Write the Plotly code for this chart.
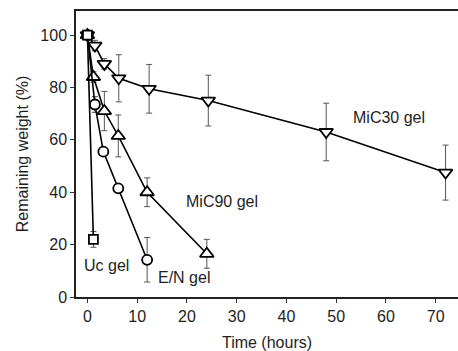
import plotly.graph_objects as go

# Data
uc_x = [0, 1.2]
uc_y = [100, 22]
uc_err = [0, 3]

en_x = [0, 1.5, 3.2, 6.2, 12]
en_y = [100, 73.5, 55.5, 41.5, 14.2]
en_err = [0, 3, 0, 0, 8.5]

mic90_x = [0, 1.2, 3.4, 6.2, 12, 24]
mic90_y = [100, 84, 71, 61.5, 40, 16.5]
mic90_err = [0, 2, 7.5, 8, 5.5, 5.5]

mic30_x = [0, 1.5, 3.4, 6.3, 12.4, 24.3, 48, 72]
mic30_y = [100, 96, 89, 83.5, 79.5, 75, 63, 47.5]
mic30_err = [0, 2, 2, 9, 9.3, 9.7, 11, 10.5]

labels = ["MiC30 gel", "MiC90 gel", "E/N gel", "Uc gel"]
label_x = [60.7, 27.1, 19.4, 3.9]
label_y = [68.4, 36.3, 7.4, 11.9]

x_ticks = [0, 10, 20, 30, 40, 50, 60, 70]
y_ticks = [0, 20, 40, 60, 80, 100]

FONT = "Liberation Sans, Arial, sans-serif"
TXT = "#1e1e1e"

fig = go.Figure()

def add(x, y, err, symbol, size):
    fig.add_trace(go.Scatter(
        x=x, y=y, mode="lines",
        line=dict(color="black", width=1.6),
        error_y=dict(type="data", array=err, visible=True,
                     color="#555", thickness=1, width=3),
        showlegend=False, hoverinfo="skip",
    ))
    fig.add_trace(go.Scatter(
        x=x, y=y, mode="markers",
        marker=dict(symbol=symbol, size=size, color="white",
                    line=dict(color="black", width=1.8)),
        showlegend=False,
    ))

add(mic30_x, mic30_y, mic30_err, "triangle-down", 12)
add(mic90_x, mic90_y, mic90_err, "triangle-up", 12)
add(en_x, en_y, en_err, "circle", 10)
add(uc_x, uc_y, uc_err, "square", 9)

for t, x, y in zip(labels, label_x, label_y):
    fig.add_annotation(x=x, y=y, text=t, showarrow=False,
                       font=dict(family=FONT, size=16, color=TXT))

fig.update_layout(
    width=458, height=351,
    margin=dict(l=76, r=0, t=11, b=54),
    paper_bgcolor="white", plot_bgcolor="white",
    font=dict(family=FONT, size=16, color=TXT),
    xaxis=dict(range=[-2.3, 74.5], tickvals=x_ticks, ticks="outside",
               ticklen=4, tickcolor="#333", showline=True, linecolor="#222",
               linewidth=1.5, mirror=True, showgrid=False, zeroline=False,
               title=dict(text="Time (hours)", standoff=14,
                          font=dict(size=16))),
    yaxis=dict(range=[0, 109.2], tickvals=y_ticks, ticks="outside",
               ticklen=4, tickcolor="#333", showline=True, linecolor="#222",
               linewidth=1.5, showgrid=False, zeroline=False,
               title=dict(text="Remaining weight (%)", standoff=8,
                          font=dict(size=16))),
)

fig.write_html("out.html")
